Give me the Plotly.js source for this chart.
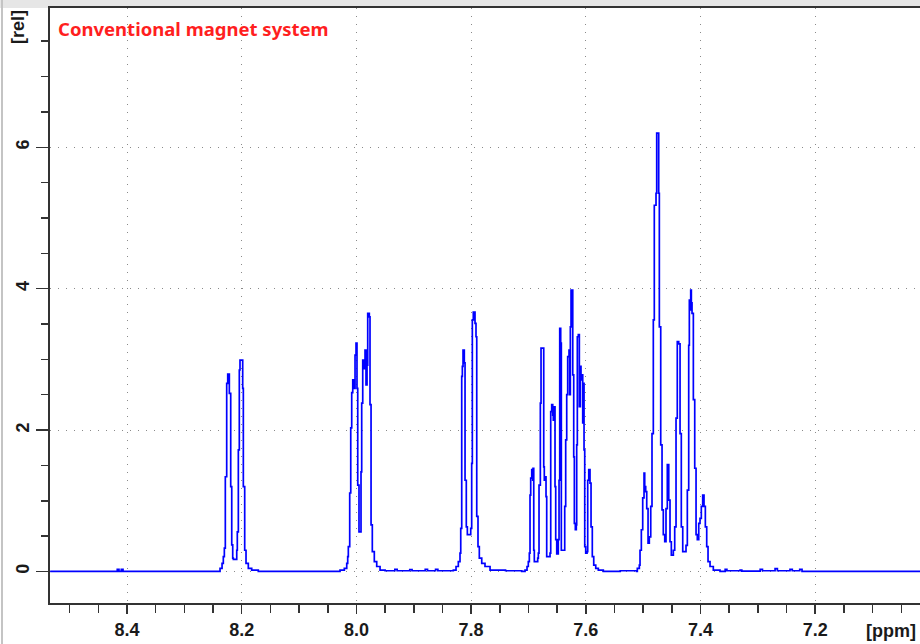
<!DOCTYPE html>
<html><head><meta charset="utf-8">
<script src="https://cdn.plot.ly/plotly-3.0.1.min.js"></script>
<style>html,body{margin:0;padding:0;background:#fff;} #chart{width:920px;height:644px;}</style>
</head><body><div id="chart"></div>
<script>
// Chemical shift (ppm) / relative intensity (descending ppm)
const baseLeftPpm = [8.534, 8.420, 8.417, 8.414, 8.410, 8.407, 8.404, 8.300];
const baseLeftInt = [0, 0, 0.03, 0, 0.03, 0, 0, 0];

const m821Ppm = [8.2378, 8.2343, 8.2321, 8.2303, 8.2286, 8.2262, 8.2244, 8.2216, 8.2192, 8.2174, 8.2157, 8.2146, 8.2087, 8.2077, 8.2059, 8.2042, 8.2030, 8.1983, 8.1972, 8.1948, 8.1925, 8.1885, 8.1826, 8.1711];
const m821Int = [0.045, 0.115, 0.21, 0.33, 1.34, 2.66, 2.79, 2.52, 1.20, 0.375, 0.19, 0.17, 0.30, 0.56, 1.72, 2.85, 2.99, 2.59, 1.20, 0.30, 0.115, 0.045, 0.02, 0];

const m799Ppm = [8.0286, 8.0211, 8.0169, 8.0152, 8.0141, 8.0117, 8.0099, 8.0082, 8.0064, 8.0042, 8.0024, 8.0007, 7.9990, 7.9977, 7.9955, 7.9920, 7.9908, 7.9890, 7.9873, 7.9850, 7.9833, 7.9815, 7.9803, 7.9775, 7.9763, 7.9745, 7.9723, 7.9688, 7.9646, 7.9588];
const m799Int = [0.02, 0.045, 0.115, 0.21, 0.35, 1.11, 2.03, 2.53, 2.71, 2.59, 3.06, 3.23, 2.59, 1.22, 0.56, 1.41, 2.38, 2.99, 2.87, 3.13, 2.64, 2.92, 3.65, 3.60, 2.36, 0.66, 0.28, 0.14, 0.07, 0.02];

const base790Ppm = [7.950, 7.933, 7.929, 7.907, 7.903, 7.880, 7.876, 7.862, 7.858, 7.845];
const base790Int = [0.01, 0.03, 0.01, 0.025, 0.01, 0.03, 0.01, 0.03, 0.01, 0.01];

const m780Ppm = [7.8310, 7.8263, 7.8223, 7.8194, 7.8181, 7.8164, 7.8153, 7.8141, 7.8119, 7.8106, 7.8084, 7.8066, 7.8007, 7.7990, 7.7979, 7.7962, 7.7932, 7.7915, 7.7902, 7.7880, 7.7857, 7.7815, 7.7758, 7.7670, 7.7400];
const m780Int = [0.02, 0.07, 0.14, 0.26, 0.61, 2.76, 2.90, 3.13, 2.95, 1.29, 0.63, 0.52, 0.61, 1.53, 3.56, 3.67, 3.51, 3.32, 0.78, 0.35, 0.19, 0.115, 0.07, 0.02, 0.01];

const m764Ppm = [7.7118, 7.7060, 7.7025, 7.7003, 7.6985, 7.6973, 7.6961, 7.6943, 7.6926, 7.6921, 7.6908, 7.6898, 7.6839, 7.6828, 7.6816, 7.6793, 7.6781, 7.6734, 7.6724, 7.6711, 7.6694, 7.6682, 7.6624, 7.6612, 7.6595, 7.6577, 7.6567, 7.6549, 7.6537, 7.6525, 7.6507, 7.6480, 7.6467, 7.6455, 7.6438, 7.6427, 7.6368, 7.6351, 7.6333, 7.6316, 7.6293, 7.6281, 7.6270, 7.6258, 7.6228, 7.6211, 7.6200, 7.6183, 7.6166, 7.6159, 7.6148, 7.6131, 7.6113, 7.6096, 7.6084, 7.6072, 7.6054, 7.6044, 7.6031, 7.6019, 7.6002, 7.5979, 7.5967, 7.5949, 7.5927, 7.5909, 7.5887, 7.5862, 7.5827, 7.5782, 7.5695, 7.5400];
const m764Int = [0, 0.02, 0.07, 0.14, 0.26, 1.08, 1.32, 1.44, 1.29, 1.46, 0.30, 0.14, 0.19, 0.26, 1.22, 2.38, 3.16, 1.48, 1.29, 1.34, 1.06, 0.21, 0.26, 2.26, 2.36, 2.21, 2.14, 2.33, 1.20, 0.45, 0.25, 0.45, 1.29, 3.44, 3.23, 0.30, 0.92, 1.86, 2.50, 3.04, 3.13, 2.50, 3.46, 3.98, 2.78, 1.62, 0.68, 0.59, 0.66, 1.79, 3.32, 3.35, 2.33, 2.90, 2.71, 2.78, 2.10, 2.66, 1.72, 0.35, 0.26, 0.28, 1.29, 1.44, 1.25, 0.63, 0.21, 0.09, 0.045, 0.02, 0, 0.01];

const m745Ppm = [7.5113, 7.5102, 7.5067, 7.5055, 7.5032, 7.5008, 7.4985, 7.4973, 7.4956, 7.4938, 7.4915, 7.4893, 7.4868, 7.4846, 7.4823, 7.4806, 7.4776, 7.4764, 7.4729, 7.4718, 7.4694, 7.4671, 7.4649, 7.4624, 7.4602, 7.4579, 7.4554, 7.4532, 7.4509, 7.4474, 7.4450, 7.4427, 7.4405, 7.4380, 7.4357, 7.4335, 7.4310, 7.4253, 7.4230, 7.4206, 7.4195, 7.4183, 7.4171, 7.4160, 7.4148, 7.4125, 7.4101, 7.4078, 7.4056, 7.4031, 7.4009, 7.3986, 7.3962, 7.3939, 7.3916, 7.3892, 7.3869, 7.3834, 7.3777, 7.3660];
const m745Int = [0, 0.045, 0.09, 0.30, 0.59, 1.04, 1.39, 1.20, 1.13, 0.89, 0.40, 0.49, 0.92, 1.95, 3.56, 5.18, 5.35, 6.20, 5.35, 3.46, 1.79, 0.87, 0.52, 0.42, 0.89, 1.51, 1.01, 0.42, 0.23, 0.30, 0.63, 2.17, 3.25, 3.22, 1.95, 0.63, 0.28, 0.37, 1.15, 3.20, 3.84, 3.70, 3.98, 3.80, 3.65, 2.43, 1.46, 0.52, 0.45, 0.68, 0.75, 0.92, 1.08, 0.92, 0.63, 0.35, 0.14, 0.07, 0.02, 0];

const baseRightPpm = [7.357, 7.354, 7.331, 7.328, 7.296, 7.292, 7.270, 7.266, 7.244, 7.240, 7.227, 7.223, 7.017];
const baseRightInt = [0.03, 0.01, 0.02, 0.005, 0.03, 0.01, 0.04, 0.01, 0.03, 0.01, 0.03, 0, 0];

const xTickVals = [8.4, 8.2, 8.0, 7.8, 7.6, 7.4, 7.2];
const xTickText = ['8.4', '8.2', '8.0', '7.8', '7.6', '7.4', '7.2'];
const yTickVals = [0, 2, 4, 6];
const yTickText = ['0', '2', '4', '6'];

const ppm = [].concat(baseLeftPpm, m821Ppm, m799Ppm, base790Ppm, m780Ppm, m764Ppm, m745Ppm, baseRightPpm);
const intensity = [].concat(baseLeftInt, m821Int, m799Int, base790Int, m780Int, m764Int, m745Int, baseRightInt);

const axisFont = {family: 'Liberation Sans, Arial, sans-serif', size: 18, color: '#1a1a1a', weight: 700};
const W = 870, H = 595;

const trace = {
  x: ppm, y: intensity, type: 'scatter', mode: 'lines',
  line: {color: '#0000ff', width: 1.7, shape: 'hv'}, hoverinfo: 'skip'
};

const layout = {
  width: 920, height: 644,
  margin: {l: 50, r: 0, t: 8, b: 41, pad: 0},
  paper_bgcolor: '#ffffff', plot_bgcolor: '#ffffff',
  showlegend: false,
  xaxis: {
    range: [8.5343, 7.0173], tickvals: xTickVals, ticktext: xTickText,
    ticks: 'outside', ticklen: 9, tickwidth: 1.5, tickcolor: '#333',
    showline: true, linecolor: '#333', linewidth: 2, mirror: true,
    showgrid: true, gridcolor: '#8a8a8a', gridwidth: 1, griddash: '1px,7px',
    zeroline: false, tickfont: axisFont, ticklabelstandoff: 0,
    minor: {tick0: 0, dtick: 0.05, ticks: 'outside', ticklen: 8, tickwidth: 1.5, tickcolor: '#333', showgrid: false}
  },
  yaxis: {
    range: [-0.446, 7.97], tickvals: yTickVals, ticktext: yTickText, tickangle: -90,
    ticks: 'outside', ticklen: 12, tickwidth: 1.5, tickcolor: '#333',
    showline: true, linecolor: '#333', linewidth: 2, mirror: false,
    showgrid: true, gridcolor: '#8a8a8a', gridwidth: 1, griddash: '1px,7px',
    zeroline: false, tickfont: axisFont, ticklabelstandoff: 0,
    minor: {tick0: 0, dtick: 0.5, ticks: 'outside', ticklen: 7, tickwidth: 1.5, tickcolor: '#333', showgrid: false}
  },
  shapes: [
    {type: 'rect', xref: 'paper', yref: 'paper', x0: -50 / W, x1: 1, y0: 1, y1: 1 + 8 / H,
     fillcolor: '#e6e6e6', line: {width: 0}, layer: 'below'},
    {type: 'rect', xref: 'paper', yref: 'paper', x0: -49 / W, x1: -47 / W, y0: -41 / H, y1: 1 + 8 / H,
     fillcolor: '#c4c4c4', line: {width: 0}, layer: 'below'}
  ],
  annotations: [
    {text: 'Conventional magnet system', xref: 'paper', yref: 'paper', x: 6 / W, y: 1 - 21 / H,
     xanchor: 'left', yanchor: 'middle', showarrow: false,
     font: {family: 'Noto Sans, sans-serif', size: 18.5, color: '#ff1f1f', weight: 700}},
    {text: '[rel]', xref: 'paper', yref: 'paper', x: -32 / W, y: 1 - 19 / H, textangle: -90,
     xanchor: 'center', yanchor: 'middle', showarrow: false, font: axisFont},
    {text: '[ppm]', xref: 'paper', yref: 'paper', x: 841 / W, y: -28 / H,
     xanchor: 'center', yanchor: 'middle', showarrow: false, font: axisFont}
  ]
};

Plotly.newPlot('chart', [trace], layout, {displayModeBar: false, staticPlot: true});
</script>
</body></html>
